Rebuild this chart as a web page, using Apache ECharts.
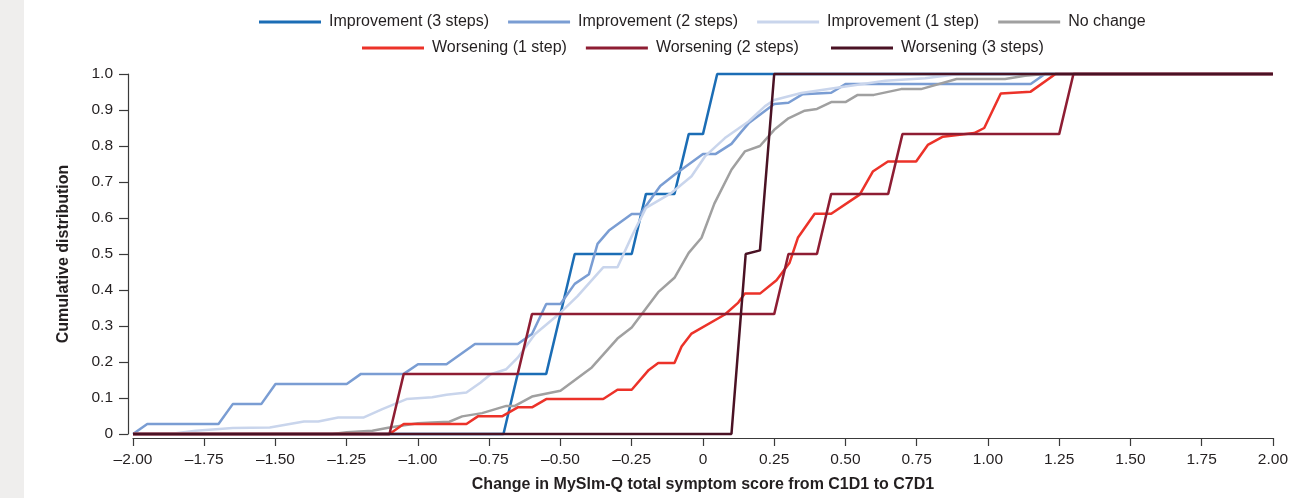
<!DOCTYPE html>
<html>
<head>
<meta charset="utf-8">
<script src="https://cdn.jsdelivr.net/npm/echarts@6/dist/echarts.min.js"></script>
<style>
html,body{margin:0;padding:0;background:#fff;}
#chart{width:1291px;height:498px;}
</style>
</head>
<body>
<div id="chart"></div>
<script>
// ---- Data ----
var seriesNames = ['Improvement (3 steps)', 'Improvement (2 steps)', 'Improvement (1 step)', 'No change',
                   'Worsening (1 step)', 'Worsening (2 steps)', 'Worsening (3 steps)'];

var improvement3 = [[-2,0],[-0.70,0],[-0.65,0.167],[-0.55,0.167],[-0.45,0.5],[-0.25,0.5],[-0.20,0.667],
  [-0.10,0.667],[-0.05,0.833],[0,0.833],[0.05,1],[2,1]];

var improvement2 = [[-2,0],[-1.95,0.028],[-1.70,0.028],[-1.65,0.083],[-1.55,0.083],[-1.50,0.139],[-1.25,0.139],
  [-1.20,0.167],[-1.05,0.167],[-1.00,0.194],[-0.90,0.194],[-0.80,0.25],[-0.65,0.25],[-0.60,0.278],[-0.55,0.361],
  [-0.50,0.361],[-0.45,0.417],[-0.40,0.444],[-0.37,0.528],[-0.33,0.565],[-0.25,0.611],[-0.22,0.611],[-0.15,0.689],
  [-0.10,0.72],[0,0.778],[0.045,0.778],[0.10,0.806],[0.135,0.84],[0.16,0.863],[0.25,0.917],[0.30,0.92],
  [0.35,0.944],[0.45,0.948],[0.50,0.972],[1.15,0.972],[1.20,1],[2,1]];

var improvement1 = [[-2,0],[-1.87,0],[-1.78,0.009],[-1.65,0.017],[-1.52,0.018],[-1.40,0.035],[-1.35,0.035],
  [-1.28,0.046],[-1.19,0.046],[-1.125,0.069],[-1.04,0.097],[-0.95,0.102],[-0.90,0.109],[-0.83,0.115],
  [-0.78,0.143],[-0.745,0.166],[-0.69,0.18],[-0.65,0.212],[-0.59,0.277],[-0.50,0.337],[-0.44,0.383],
  [-0.35,0.463],[-0.30,0.463],[-0.25,0.549],[-0.20,0.628],[-0.11,0.67],[-0.04,0.716],[0.007,0.771],
  [0.077,0.822],[0.16,0.868],[0.217,0.91],[0.25,0.928],[0.345,0.947],[0.50,0.965],[0.64,0.981],
  [0.78,0.988],[0.87,0.997],[0.90,1],[2,1]];

var noChange = [[-2,0],[-1.30,0],[-1.25,0.005],[-1.16,0.009],[-1.10,0.018],[-1.00,0.03],[-0.95,0.032],
  [-0.89,0.034],[-0.845,0.049],[-0.775,0.058],[-0.69,0.078],[-0.66,0.078],[-0.60,0.104],[-0.50,0.12],
  [-0.39,0.185],[-0.30,0.265],[-0.25,0.296],[-0.157,0.394],[-0.10,0.434],[-0.05,0.503],[-0.005,0.545],
  [0.04,0.64],[0.10,0.734],[0.147,0.785],[0.20,0.80],[0.25,0.845],[0.30,0.877],[0.357,0.898],[0.40,0.903],
  [0.45,0.922],[0.50,0.922],[0.543,0.942],[0.60,0.942],[0.695,0.958],[0.765,0.958],[0.89,0.986],
  [1.06,0.986],[1.13,0.995],[1.20,1],[2,1]];

var worsening1 = [[-2,0],[-1.10,0],[-1.05,0.028],[-0.83,0.028],[-0.79,0.049],[-0.705,0.049],[-0.65,0.074],
  [-0.60,0.074],[-0.55,0.097],[-0.35,0.097],[-0.30,0.123],[-0.25,0.123],[-0.19,0.178],[-0.157,0.197],
  [-0.10,0.197],[-0.075,0.243],[-0.04,0.279],[0.077,0.332],[0.124,0.365],[0.147,0.39],[0.20,0.39],
  [0.258,0.427],[0.304,0.476],[0.333,0.545],[0.392,0.612],[0.45,0.612],[0.55,0.665],[0.596,0.729],
  [0.649,0.757],[0.748,0.757],[0.789,0.803],[0.842,0.826],[0.952,0.836],[0.987,0.85],[1.045,0.946],
  [1.15,0.951],[1.237,1],[2,1]];

var worsening2 = [[-2,0],[-1.10,0],[-1.05,0.167],[-0.65,0.167],[-0.60,0.333],[0.25,0.333],[0.30,0.5],
  [0.40,0.5],[0.45,0.667],[0.65,0.667],[0.70,0.833],[1.25,0.833],[1.30,1],[2,1]];

var worsening3 = [[-2,0],[0.10,0],[0.15,0.5],[0.20,0.51],[0.25,1],[2,1]];

var xTicks = [-2, -1.75, -1.5, -1.25, -1, -0.75, -0.5, -0.25, 0, 0.25, 0.5, 0.75, 1, 1.25, 1.5, 1.75, 2];
var yTicks = [0, 0.1, 0.2, 0.3, 0.4, 0.5, 0.6, 0.7, 0.8, 0.9, 1.0];

// ---- Styling ----
var colors = ['#1b6db5', '#7a9dd3', '#c9d5ec', '#a0a0a0', '#ec3229', '#8e1d33', '#4a1224'];
var allData = [improvement3, improvement2, improvement1, noChange, worsening1, worsening2, worsening3];
var FONT = "'Liberation Sans', Arial, Helvetica, sans-serif";
var TXT = '#231f20';
var AX = '#3a3a3a';

var chart = echarts.init(document.getElementById('chart'), null, {renderer: 'canvas'});

var series = seriesNames.map(function (n, i) {
  return {
    name: n, type: 'line', data: allData[i], symbol: 'none', smooth: false,
    lineStyle: {color: colors[i], width: 2.5}, itemStyle: {color: colors[i]},
    clip: false, z: 2 + i
  };
});

function legendCfg(names, left, top) {
  return {
    data: names, left: left, top: top, orient: 'horizontal', padding: 0,
    icon: 'rect', itemWidth: 62, itemHeight: 3, itemGap: 19,
    textStyle: {fontFamily: FONT, fontSize: 16, color: TXT, padding: [0, 0, 0, 3]},
    selectedMode: false
  };
}

chart.setOption({
  animation: false,
  backgroundColor: '#ffffff',
  color: colors,
  graphic: [{type: 'rect', left: 0, top: 0, z: -10, shape: {width: 24, height: 498}, style: {fill: '#efeeed'}}],
  legend: [
    legendCfg(seriesNames.slice(0, 4), 259, 14),
    legendCfg(seriesNames.slice(4, 6), 362, 40),
    legendCfg(seriesNames.slice(6, 7), 831, 40)
  ],
  grid: {left: 133, right: 15, top: 74, bottom: 63, containLabel: false},
  xAxis: {
    type: 'value', min: xTicks[0], max: xTicks[xTicks.length - 1], interval: 0.25, offset: 4,
    name: 'Change in MySlm-Q total symptom score from C1D1 to C7D1',
    nameLocation: 'middle', nameGap: 39,
    nameTextStyle: {fontFamily: FONT, fontSize: 16, fontWeight: 'bold', color: TXT},
    axisLine: {show: true, onZero: false, lineStyle: {color: AX, width: 1.2}},
    axisTick: {show: true, inside: false, length: 8, lineStyle: {color: AX, width: 1.2}},
    axisLabel: {fontFamily: FONT, fontSize: 15.5, color: TXT, margin: 14,
      formatter: function (v) { return v === 0 ? '0' : v.toFixed(2).replace('-', '\u2013'); }},
    splitLine: {show: false}
  },
  yAxis: {
    type: 'value', min: yTicks[0], max: yTicks[yTicks.length - 1], interval: 0.1, offset: 5,
    name: 'Cumulative distribution',
    nameLocation: 'middle', nameGap: 56,
    nameTextStyle: {fontFamily: FONT, fontSize: 16, fontWeight: 'bold', color: TXT},
    axisLine: {show: true, onZero: false, lineStyle: {color: AX, width: 1.2}},
    axisTick: {show: true, inside: false, length: 9, lineStyle: {color: AX, width: 1.2}},
    axisLabel: {fontFamily: FONT, fontSize: 15.5, color: TXT, margin: 15,
      formatter: function (v) { return v === 0 ? '0' : v.toFixed(1); }},
    splitLine: {show: false}
  },
  series: series
});
</script>
</body>
</html>
